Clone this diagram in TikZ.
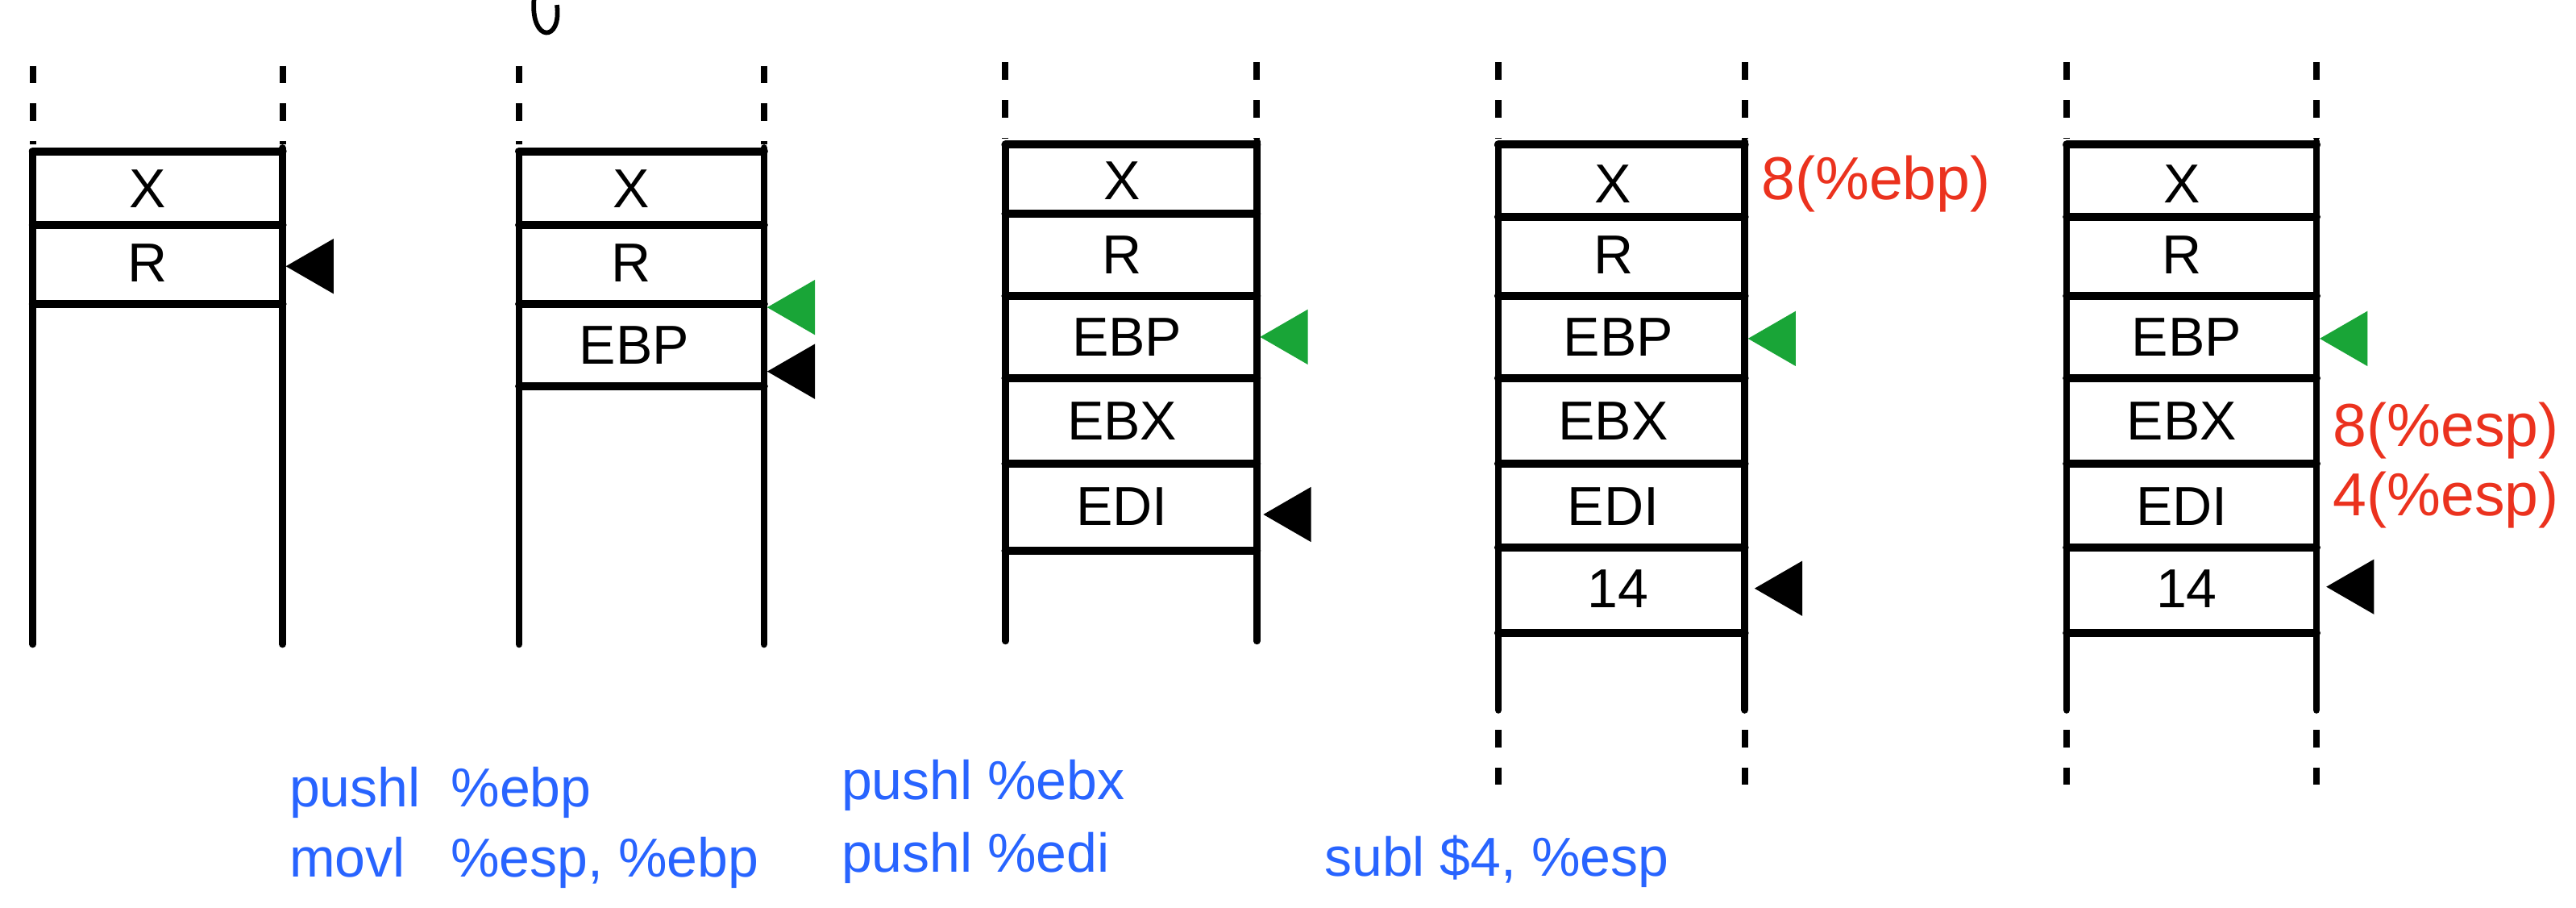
\documentclass[tikz,border=0pt]{standalone}
\usepackage{fontspec}
\setmainfont{Liberation Sans}
\usetikzlibrary{shapes.geometric}
\definecolor{inkblue}{RGB}{40,100,255}
\definecolor{inkred}{RGB}{235,50,30}
\definecolor{inkgreen}{RGB}{25,165,55}
\tikzstyle{wall}=[line width=2.4pt, line cap=round]
\tikzstyle{more}=[line width=2.2pt, dash pattern=on 6pt off 7pt]
\tikzstyle{slot}=[line width=2.8pt, line cap=round]
\tikzstyle{cell}=[font=\fontsize{19}{22}\selectfont]
\tikzstyle{espptr}=[isosceles triangle, isosceles triangle apex angle=60, fill=black, draw=black, inner sep=0pt, minimum size=0.56cm, shape border rotate=180, anchor=apex]
\tikzstyle{ebpptr}=[espptr, fill=inkgreen, draw=inkgreen]
\tikzstyle{code}=[text=inkblue, anchor=west, font=\fontsize{19}{22}\selectfont]
\tikzstyle{offset}=[text=inkred, anchor=west, font=\fontsize{21}{24}\selectfont]

\begin{document}
\begin{tikzpicture}[x=0.02cm, y=-0.02cm]
  \useasboundingbox (0,0) rectangle (1568,552);
  % stack 1
  \draw[more] (20,40) -- (20,88);
  \draw[more] (172,40) -- (172,88);
  \draw[wall] (20,92) -- (20,392);
  \draw[wall] (172,90) -- (172,392);
  \foreach \y in {92,137,185} \draw[slot] (20,\y) -- (172,\y);
  \node[cell] (x1) at (90,115) {X};
  \node[cell] (r1) at (90,160) {R};
  \node[espptr] (sp1) at (174,162) {};

  % stack 2
  \draw[line width=1.6pt] (325,0) .. controls (323,26) and (342,26) .. (339,3);
  \draw[more] (316,40) -- (316,88);
  \draw[more] (465,40) -- (465,88);
  \draw[wall] (316,92) -- (316,392);
  \draw[wall] (465,90) -- (465,392);
  \foreach \y in {92,137,185,235} \draw[slot] (316,\y) -- (465,\y);
  \node[cell] (x2) at (384,115) {X};
  \node[cell] (r2) at (384,160) {R};
  \node[cell] (bp2) at (386,210) {EBP};
  \node[ebpptr] (fp2) at (467,187) {};
  \node[espptr] (sp2) at (467,226) {};

  % stack 3
  \draw[more] (612,38) -- (612,84);
  \draw[more] (765,38) -- (765,84);
  \draw[wall] (612,88) -- (612,390);
  \draw[wall] (765,86) -- (765,390);
  \foreach \y in {88,130,180,230,282,335} \draw[slot] (612,\y) -- (765,\y);
  \node[cell] (x3) at (683,110) {X};
  \node[cell] (r3) at (683,155) {R};
  \node[cell] (bp3) at (686,205) {EBP};
  \node[cell] (bx3) at (683,256) {EBX};
  \node[cell] (di3) at (683,308) {EDI};
  \node[ebpptr] (fp3) at (767,205) {};
  \node[espptr] (sp3) at (769,313) {};

  % stack 4
  \draw[more] (912,38) -- (912,84);
  \draw[more] (1062,38) -- (1062,84);
  \draw[wall] (912,88) -- (912,432);
  \draw[wall] (1062,86) -- (1062,432);
  \draw[more] (912,444) -- (912,482);
  \draw[more] (1062,444) -- (1062,482);
  \foreach \y in {88,132,180,230,282,333,385} \draw[slot] (912,\y) -- (1062,\y);
  \node[cell] (x4) at (982,112) {X};
  \node[cell] (r4) at (982,155) {R};
  \node[cell] (bp4) at (985,205) {EBP};
  \node[cell] (bx4) at (982,256) {EBX};
  \node[cell] (di4) at (982,308) {EDI};
  \node[cell] (v4) at (985,358) {14};
  \node[ebpptr] (fp4) at (1064,206) {};
  \node[espptr] (sp4) at (1068,358) {};
  \node[offset] (ob4) at (1066,112) {8(\%ebp)};

  % stack 5
  \draw[more] (1258,38) -- (1258,84);
  \draw[more] (1410,38) -- (1410,84);
  \draw[wall] (1258,88) -- (1258,432);
  \draw[wall] (1410,86) -- (1410,432);
  \draw[more] (1258,444) -- (1258,482);
  \draw[more] (1410,444) -- (1410,482);
  \foreach \y in {88,132,180,230,282,333,385} \draw[slot] (1258,\y) -- (1410,\y);
  \node[cell] (x5) at (1328,112) {X};
  \node[cell] (r5) at (1328,155) {R};
  \node[cell] (bp5) at (1331,205) {EBP};
  \node[cell] (bx5) at (1328,256) {EBX};
  \node[cell] (di5) at (1328,308) {EDI};
  \node[cell] (v5) at (1331,358) {14};
  \node[ebpptr] (fp5) at (1412,206) {};
  \node[espptr] (sp5) at (1416,357) {};
  \node[offset] (os8) at (1414,262) {8(\%esp)};
  \node[offset] (os4) at (1414,304) {4(\%esp)};

  % instructions
  \node[code] (pushebp) at (170,482) {pushl\ \ \%ebp};
  \node[code] (movl) at (170,525) {movl\ \ \ \%esp, \%ebp};
  \node[code] (pushebx) at (506,478) {pushl \%ebx};
  \node[code] (pushedi) at (506,522) {pushl \%edi};
  \node[code] (subl) at (800,524) {subl \$4, \%esp};
\end{tikzpicture}
\end{document}
